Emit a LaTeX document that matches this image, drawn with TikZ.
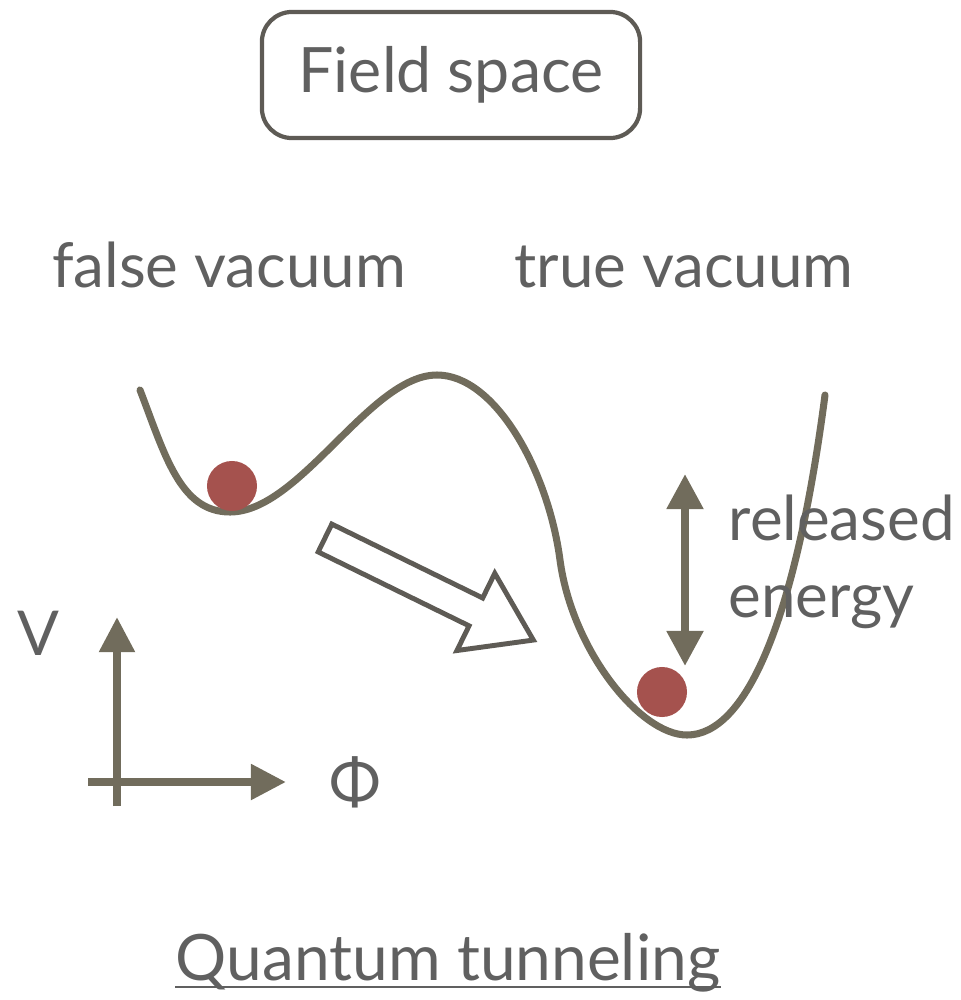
\documentclass[tikz,border=0pt]{standalone}
\usepackage{fontspec}
\setmainfont{Lato}
\usetikzlibrary{positioning,arrows.meta,calc}
\definecolor{curvecol}{HTML}{716C5C}
\definecolor{inkcol}{HTML}{606060}
\definecolor{ballcol}{HTML}{A5524E}
\definecolor{framecol}{HTML}{5E5B55}

\begin{document}
\begin{tikzpicture}[
  x=0.01cm, y=-0.01cm,
  lbl/.style={text=inkcol, inner sep=0pt, font=\fontsize{17.6}{22}\selectfont},
  frame/.style={draw=framecol, line width=1.2pt, rounded corners=0.3cm, text=inkcol, font=\fontsize{17.8}{22}\selectfont},
  potential/.style={draw=curvecol, line width=2pt, line cap=round},
  ballst/.style={circle, fill=ballcol, minimum size=0.5cm, inner sep=0pt},
  axis/.style={draw=curvecol, line width=2.3pt, -{Triangle[length=0.35cm, width=0.34cm]}},
  gap/.style={draw=curvecol, line width=2.3pt, {Triangle[length=0.35cm, width=0.35cm]}-{Triangle[length=0.35cm, width=0.35cm]}},
  hollow/.style={draw=framecol, line width=1.4pt, fill=white, line join=miter}
]
\useasboundingbox (0,0) rectangle (960,1000);

% ---- title box ----
\node[frame, minimum width=3.78cm, minimum height=1.26cm] (field) at (451,75) {Field space};

% ---- vacuum labels ----
\node[lbl, anchor=base] (false) at (229,287) {false vacuum};
\node[lbl, anchor=base] (true) at (684,287) {true vacuum};

% ---- potential ----
\draw[potential] (140,390) .. controls (165,455) and (180,512) .. (230,512)
  .. controls (300,512) and (370,375) .. (437,375)
  .. controls (495,375) and (548,470) .. (560,560)
  .. controls (572,650) and (640,735) .. (687,735)
  .. controls (745,735) and (795,625) .. (825,395);

% ---- balls ----
\node[ballst] (fball) at (232,486) {};
\node[ballst] (tball) at (662,692) {};

% ---- tunnelling arrow ----
\begin{scope}[shift={(325,538)}, rotate=-26.1]
  \draw[hollow] (0,-15.5) -- (168,-15.5) -- (168,-43) -- (232,0)
    -- (168,43) -- (168,15.5) -- (0,15.5) -- cycle;
\end{scope}

% ---- released energy ----
\coordinate (etop) at (685,474);
\coordinate (ebot) at (685,666);
\draw[gap] (etop) -- (ebot);
\node[lbl, anchor=base west] (rel) at (728,540) {released};
\node[lbl, anchor=base west] (ene) at (728,617) {energy};

% ---- axes ----
\coordinate (orig) at (117,782);
\coordinate (vbot) at (117,806);
\coordinate (vtop) at (117,617);
\coordinate (hleft) at (88,782);
\coordinate (hright) at (286,782);
\draw[axis] (vbot) -- (vtop);
\draw[axis] (hleft) -- (hright);
\node[lbl, anchor=base] (vlab) at (38,655) {V};
\node[lbl] (philab) at (355,782) {Φ};

% ---- caption ----
\node[lbl, anchor=base, font=\fontsize{18.2}{22}\selectfont] (cap) at (448,980) {Quantum tunneling};
\draw[draw=inkcol, line width=0.6pt] ($(cap.base west)+(0,7)$) -- ($(cap.base east)+(0,7)$);
\end{tikzpicture}
\end{document}
